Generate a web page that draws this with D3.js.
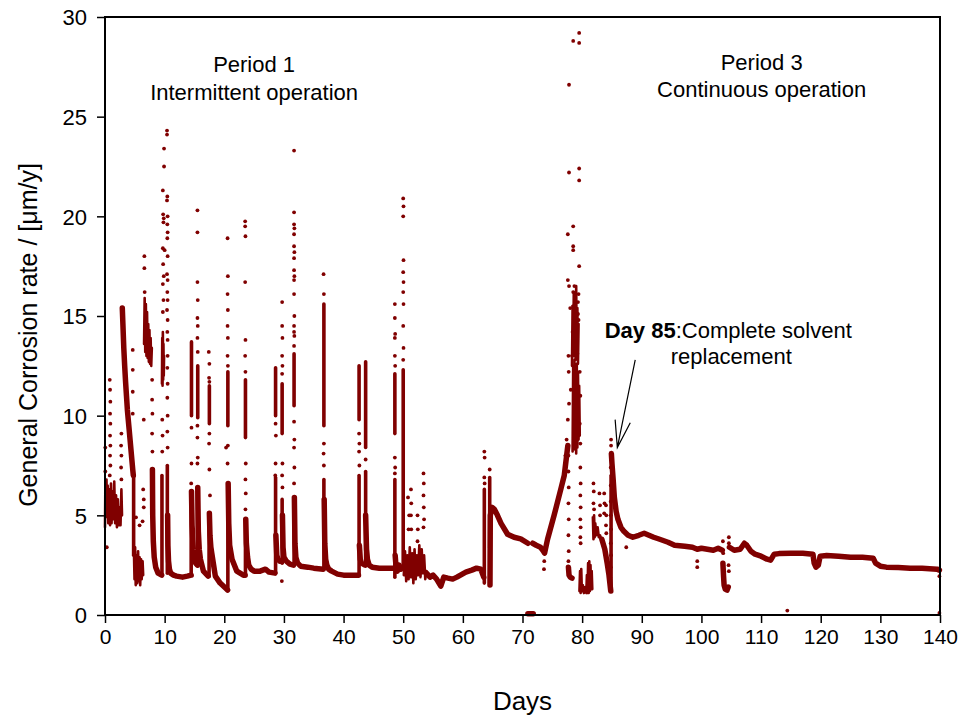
<!DOCTYPE html>
<html>
<head>
<meta charset="utf-8">
<script src="https://cdn.jsdelivr.net/npm/d3@7"></script>
<style>
  body { margin: 0; background: #fff; }
  svg text { font-family: Arial, "Liberation Sans", sans-serif; fill: #000; }
</style>
</head>
<body>
<div id="chart"></div>
<script>
// axis ticks
const dayTicks = [0, 10, 20, 30, 40, 50, 60, 70, 80, 90, 100, 110, 120, 130, 140];
const rateTicks = [0, 5, 10, 15, 20, 25, 30];

const intermittentBands = [
  [[2.9,15.4],[3.0,14.6],[3.15,13.4],[3.3,12.5],[3.45,11.7],[3.6,11.0],[3.75,10.3],[3.9,9.8],[4.05,9.3],[4.2,8.8],[4.35,8.3],[4.5,7.8],[4.65,7.3],[4.75,7.0]],
  [[7.95,7.3],[8.0,5.0],[8.1,3.7],[8.25,2.9],[8.5,2.4],[8.9,2.1],[9.5,2.0]],
  [[10.5,5.0],[10.55,3.5],[10.65,2.7],[10.8,2.3],[11.0,2.1],[11.5,2.0],[12.0,1.95],[13.0,1.9],[13.8,1.95],[14.45,2.0]],
  [[14.5,6.2],[14.6,4.5],[14.8,3.3],[15.0,2.8],[15.2,2.6],[15.5,2.5]],
  [[15.55,6.4],[15.65,4.2],[15.8,3.3],[16.0,2.8],[16.5,2.2],[17.3,1.95]],
  [[17.5,5.1],[17.6,4.0],[17.75,3.4],[17.9,3.1],[18.5,1.95],[19.3,1.6],[20.2,1.35],[20.55,1.25]],
  [[20.65,6.6],[20.75,4.6],[20.9,3.5],[21.3,2.8],[22.1,2.2],[23.2,2.0],[23.5,2.0]],
  [[23.6,4.8],[23.7,3.6],[23.9,2.9],[24.1,2.5],[24.5,2.3],[25.0,2.2],[26.0,2.2],[26.9,2.3],[27.5,2.15],[28.5,2.1]],
  [[28.65,4.0],[28.8,3.0],[29.0,2.8],[29.3,2.7],[29.65,2.7]],
  [[29.75,5.0],[29.85,3.4],[30.0,2.9],[30.4,2.7],[31.0,2.55],[31.6,2.5]],
  [[31.75,5.9],[31.85,3.6],[32.0,2.9],[32.3,2.6],[32.8,2.45],[34.0,2.4],[35.0,2.35],[36.6,2.3]],
  [[36.75,5.8],[36.85,3.6],[37.0,2.8],[37.2,2.5],[37.5,2.3],[38.0,2.2],[39.0,2.05],[40.0,2.0],[41.0,2.0],[42.5,2.0]],
  [[42.65,3.5],[42.8,2.8],[43.0,2.6],[43.6,2.5]],
  [[43.7,5.0],[43.85,3.3],[44.0,2.8],[44.3,2.5],[44.8,2.4],[46.0,2.35],[47.0,2.35],[48.5,2.35]],
  [[48.65,3.0],[48.8,2.4],[49.0,2.2],[49.3,2.5],[49.6,2.3],[49.9,2.4]]
];
const intermittentColumns = [
  [[4.8,3.0],[4.8,7.0]], [[9.55,2.0],[9.55,7.0]], [[10.45,2.1],[10.45,7.5]],
  [[14.45,2.0],[14.45,6.2]], [[14.5,10.0],[14.5,13.7]],
  [[15.5,2.5],[15.5,6.4]], [[15.55,9.9],[15.55,12.5]],
  [[17.45,1.95],[17.45,5.1]], [[17.5,9.6],[17.5,11.5]],
  [[20.6,1.3],[20.6,6.6]], [[20.6,9.5],[20.6,12.2]],
  [[23.55,2.0],[23.55,4.8]], [[23.55,8.9],[23.55,11.8]],
  [[28.6,2.1],[28.6,6.9]], [[28.6,10.0],[28.6,12.4]],
  [[29.7,2.6],[29.7,5.8]], [[29.7,9.1],[29.7,11.6]],
  [[31.7,2.5],[31.7,5.9]], [[31.7,10.5],[31.7,13.1]],
  [[36.7,2.3],[36.7,6.8]], [[36.7,9.5],[36.7,15.6]],
  [[42.6,2.0],[42.6,7.0]], [[42.6,9.8],[42.6,12.5]],
  [[43.7,2.5],[43.7,7.2]], [[43.7,8.4],[43.7,12.7]],
  [[48.6,1.9],[48.6,6.8]], [[48.6,9.1],[48.6,12.1]],
  [[50.0,2.4],[50.0,12.3]]
];
const intermittentNoise = [
  [[0,4.4],[0.05,6.2],[0.15,4.9],[0.25,6.8],[0.35,5.0],[0.45,6.5],[0.55,4.6],[0.7,6.3],[0.85,4.5],[1.0,6.6],[1.1,4.6],[1.25,6.2],[1.4,4.8],[1.55,6.7],[1.7,4.6],[1.85,6.0],[2.0,4.4],[2.15,5.8],[2.3,4.5],[2.45,5.4],[2.6,4.5],[2.75,6.3],[2.85,5.0]],
  [[4.85,3.2],[4.95,1.8],[5.05,3.4],[5.15,1.5],[5.3,3.0],[5.4,1.6],[5.55,3.2],[5.65,1.7],[5.8,2.9],[5.9,1.5],[6.05,2.8],[6.15,1.8],[6.3,2.7],[6.4,2.0]],
  [[6.55,13.6],[6.65,15.9],[6.75,13.2],[6.85,15.6],[6.95,13.0],[7.05,15.2],[7.15,12.9],[7.25,14.6],[7.35,12.7],[7.45,14.3],[7.55,12.6],[7.65,13.9],[7.75,12.5],[7.85,13.4]],
  [[9.55,11.6],[9.6,13.9],[9.65,11.5],[9.7,14.2],[9.75,11.8],[9.8,13.6],[9.85,12.0],[9.9,13.0]],
  [[50.1,2.0],[50.3,3.2],[50.5,1.7],[50.7,3.0],[50.9,1.8],[51.1,3.4],[51.3,1.9],[51.5,3.1],[51.7,1.6],[51.9,3.3],[52.1,1.8],[52.3,3.0],[52.5,2.0],[52.7,3.5],[52.9,1.9],[53.1,3.3],[53.3,2.1],[53.5,3.0],[53.7,1.8],[53.9,2.2]]
];
const intermittentSpikes = [
  [0.05,8.4],[0.05,7.2],[0.3,3.4],[0.8,11.8],[0.85,11.3],[0.9,10.7],[0.85,10.1],[0.9,9.6],[0.85,9.0],[0.9,8.5],[0.85,8.0],[0.9,7.5],[0.8,7.0],
  [2.75,9.1],[2.7,8.5],[2.75,8.0],[2.7,7.4],[2.75,6.8],
  [4.65,13.3],[4.65,12.3],[4.65,11.2],[4.65,10.1],
  [5.2,4.9],[5.8,4.5],[6.3,4.7],[6.4,6.3],
  [6.6,18.0],[6.6,17.4],[6.65,16.2],[6.5,9.8],[6.5,5.8],[6.5,5.4],
  [7.9,11.8],[7.9,10.8],[7.95,10.1],[7.9,9.1],[7.95,8.2],
  [9.9,23.4],[9.9,22.5],[9.7,21.3],[9.75,20.1],[9.85,19.9],[9.8,19.7],[9.7,18.4],[10.0,18.3],[9.75,17.6],[9.85,17.0],[9.7,16.6],[9.8,15.8],[9.7,15.2],[9.6,9.8],[9.65,9.0],[9.6,8.2],
  [10.4,24.3],[10.4,24.1],[10.45,21.0],[10.4,20.8],[10.5,20.0],[10.45,19.6],[10.5,19.2],[10.45,18.9],[10.5,18.0],[10.4,17.1],[10.5,16.8],[10.45,16.2],[10.5,15.8],[10.4,15.3],[10.5,14.8],[10.45,14.2],[10.5,13.8],[10.5,13.0],[10.45,12.4],[10.5,11.6],[10.45,10.9],[10.5,10.0],[10.45,9.2],[10.5,8.4],
  [14.5,7.6],[14.45,6.6],[14.5,9.4],
  [15.5,20.3],[15.5,19.2],[15.5,16.7],[15.55,15.8],[15.5,14.9],[15.55,14.5],[15.5,13.9],[15.55,13.2],[15.5,9.5],[15.5,8.9],[15.55,7.9],[15.5,7.6],
  [17.4,13.2],[17.5,12.6],[17.45,11.9],[17.5,11.7],[17.5,9.1],[17.45,8.6],[17.5,7.3],[17.6,6.0],
  [20.3,8.4],[20.55,18.9],[20.6,17.0],[20.55,16.1],[20.6,15.3],[20.55,14.5],[20.6,13.9],[20.55,13.0],[20.6,12.5],[20.6,8.5],[20.55,7.6],[20.9,3.6],[21.0,3.3],
  [23.5,19.75],[23.5,19.5],[23.55,19.0],[23.5,16.7],[23.55,13.8],[23.5,13.0],[23.55,12.2],[23.6,7.6],[23.55,6.8],[23.6,6.1],[23.55,5.3],
  [28.6,9.6],[28.65,9.0],[28.6,7.6],[28.55,7.0],
  [29.7,15.7],[29.7,14.5],[29.75,13.9],[29.7,13.0],[29.75,12.5],[29.7,12.1],[29.75,7.6],[29.7,7.0],[29.75,6.4],[29.65,1.7],
  [31.7,23.3],[31.7,20.2],[31.7,19.6],[31.75,19.4],[31.7,19.1],[31.7,18.5],[31.75,18.2],[31.7,17.9],[31.7,17.3],[31.75,17.0],[31.7,16.8],[31.7,16.1],[31.75,15.0],[31.7,14.5],[31.7,14.2],[31.75,14.0],[31.7,13.5],[31.7,9.7],[31.75,8.8],[31.7,8.4],[31.75,7.4],[31.7,6.6],
  [36.65,17.1],[36.7,16.1],[36.7,8.6],[36.65,8.1],[36.7,7.5],
  [42.6,9.1],[42.65,8.6],[42.6,8.2],[42.65,7.5],
  [43.7,7.8],
  [48.6,15.6],[48.6,14.9],[48.65,14.1],[48.6,13.9],[48.6,13.0],[48.65,12.5],[48.6,7.9],[48.65,7.4],[48.6,7.1],
  [50.0,20.9],[50.05,20.5],[50.0,20.0],[50.05,17.8],[50.0,17.2],[50.05,16.7],[50.0,16.2],[50.05,15.6],[50.0,14.5],[50.05,13.4],[50.0,12.8],
  [51.3,6.3],[51.35,5.6],[51.3,5.0],[51.35,4.3],[52.4,5.0],[52.45,4.3],[52.4,3.7],[53.4,7.1],[53.45,6.6],[53.4,6.0],[53.45,5.4],[53.5,4.8],[53.4,4.4],[50.8,5.9],[51.0,5.0],[50.9,4.3]
];

const transitionBands = [
  [[53.9,2.1],[54.5,1.9],[55.0,2.0],[55.6,1.8],[56.3,1.45],[56.8,1.9],[57.5,1.85],[58.3,1.8],[59.0,1.9],[59.6,2.0],[60.5,2.15],[61.5,2.25],[62.3,2.35],[63.0,2.3],[63.5,1.9]],
  [[64.55,1.5],[64.6,5.0],[64.9,5.4],[65.3,5.3],[65.8,5.0],[66.4,4.6],[67.5,4.05],[68.6,3.9],[69.7,3.82],[70.9,3.6]],
  [[71.7,3.6],[72.3,3.5],[73.0,3.4],[73.5,3.2],[73.7,3.1],[74.2,3.8],[75.3,5.0],[76.5,6.4],[77.0,7.0],[77.6,8.5]],
  [[77.7,2.4],[77.8,2.0],[78.0,1.9],[78.3,1.85]],
  [[83.3,3.8],[83.8,3.3],[84.2,2.6],[84.5,2.0],[84.8,1.2]],
  [[70.9,0.06],[71.8,0.06]]
];
const transitionColumns = [
  [[63.6,1.6],[63.6,6.3]], [[64.5,3.4],[64.5,6.9]], [[84.85,1.3],[84.85,7.0]]
];
const transitionNoise = [
  [[78.4,8.2],[78.5,12.5],[78.6,8.6],[78.7,12.8],[78.8,8.3],[78.9,12.0],[79.0,8.1],[79.1,12.6],[79.2,8.4],[79.3,12.2],[79.4,8.8],[79.5,11.5],[79.6,9.0]],
  [[78.3,12.5],[78.4,15.5],[78.5,13.0],[78.6,16.2],[78.7,13.5],[78.8,15.0],[78.9,12.8],[79.0,16.5],[79.1,13.2],[79.2,15.4],[79.3,12.6],[79.4,14.6]],
  [[79.55,1.2],[79.65,2.2],[79.75,1.1],[79.85,2.3],[79.95,1.2],[80.1,1.5],[80.3,1.1],[80.5,1.4],[80.7,1.1],[80.8,2.0],[80.9,1.1],[81.0,2.6],[81.1,1.1],[81.2,2.7],[81.3,1.2],[81.4,2.5],[81.5,1.3],[81.6,2.2],[81.7,1.3]],
  [[81.8,4.9],[81.9,3.8],[82.0,5.0],[82.1,3.9],[82.2,4.6],[82.4,4.0],[82.6,4.4],[82.8,3.9],[83.0,4.0],[83.3,3.7]]
];
const transitionSpikes = [
  [63.6,8.2],[63.65,7.9],[63.6,6.9],[63.65,6.6],
  [64.5,7.3],[64.55,1.7],
  [73.6,2.3],[73.65,2.7],[77.2,8.0],[77.4,8.8],
  [77.6,16.8],[77.6,19.1],[77.8,26.6],[77.8,22.2],[77.8,16.5],[77.7,13.0],[77.75,12.2],[78.1,11.3],[77.8,10.6],[77.6,9.8],
  [77.7,8.0],[77.7,7.2],[77.75,6.4],[77.7,5.6],[77.75,4.8],[77.7,4.0],[77.75,3.2],[77.7,2.7],
  [78.5,28.8],[78.5,19.5],[78.5,18.5],[78.5,18.3],[78.5,16.2],[78.5,15.5],[78.0,15.4],[78.4,14.2],[78.6,13.4],[78.3,13.0],[78.7,16.5],[78.9,13.8],
  [79.5,29.2],[79.5,28.7],[79.5,22.4],[79.5,21.8],[79.5,17.5],[79.4,16.1],[79.3,15.7],[79.3,15.1],[79.4,14.8],[79.1,14.4],[79.2,13.1],[79.6,12.2],
  [79.7,11.0],[79.6,9.6],[79.7,8.6],[79.7,7.4],[79.75,6.6],[79.7,6.0],[79.75,5.4],[79.7,4.8],[79.75,4.4],[79.7,3.9],[79.75,3.6],
  [81.9,6.6],[81.95,6.2],[81.9,5.6],[82.0,5.3],[82.9,6.1],[83.0,5.5],[83.0,5.0],[83.7,6.1],[83.75,5.6],[83.7,5.1],[84.0,5.5],[84.05,5.0],[84.0,4.5],[84.05,4.1],[84.6,2.6],[84.7,1.9]
];

const continuousBands = [
  [[84.9,8.1],[85.0,7.6],[85.2,6.8],[85.4,5.9],[85.7,5.2],[86.0,4.8],[86.5,4.4],[87.0,4.2],[87.7,4.0],[88.5,3.9],[89.5,4.0],[90.4,4.1],[91.2,4.0],[92.0,3.9],[93.0,3.8],[94.4,3.65],[95.5,3.5],[97.2,3.45],[98.5,3.4],[99.3,3.3],[100.0,3.35],[101.0,3.3],[102.0,3.25],[102.8,3.35],[103.5,3.25]],
  [[103.6,2.6],[103.7,2.0],[103.8,1.5],[104.0,1.3],[104.3,1.25],[104.5,1.4]],
  [[104.7,3.4],[105.5,3.25],[106.5,3.3],[107.2,3.6],[107.6,3.5],[108.3,3.2],[109.0,3.05],[110.0,2.95],[111.0,2.8],[111.6,2.75],[112.2,3.05],[113.0,3.08],[115.0,3.1],[117.0,3.1],[118.7,3.05],[118.9,2.6],[119.2,2.4],[119.6,2.5],[119.9,2.95],[121.0,2.98],[123.0,2.95],[125.0,2.9],[127.0,2.9],[128.8,2.85],[129.2,2.6],[130.0,2.45],[131.0,2.4],[133.0,2.38],[135.0,2.35],[137.0,2.35],[139.5,2.3],[139.9,2.25]]
];
const continuousSpikes = [
  [84.85,8.8],[84.85,8.5],[84.8,7.4],[84.8,6.5],[84.8,5.7],[84.8,5.0],[84.85,4.3],[84.8,3.6],[84.85,3.0],[84.8,2.4],
  [87.4,3.4],[99.3,2.7],[99.3,2.4],
  [103.6,3.7],[103.65,3.1],[104.6,3.9],[104.6,3.6],[104.55,2.5],[104.6,2.2],
  [114.4,0.22],[139.9,1.95],[139.9,0.1]
];

const width = 961, height = 719;
const margin = { top: 17, right: 21, bottom: 104, left: 105 };
const w = width - margin.left - margin.right;
const h = height - margin.top - margin.bottom;
const red = "#800000";

const svg = d3.select("#chart").append("svg")
  .attr("width", width)
  .attr("height", height);

const g = svg.append("g")
  .attr("transform", `translate(${margin.left},${margin.top})`);

const x = d3.scaleLinear().domain([0, 140]).range([0, w]);
const y = d3.scaleLinear().domain([0, 30]).range([h, 0]);

// axes
const xAxis = g.append("g")
  .attr("transform", `translate(0,${h})`)
  .call(d3.axisBottom(x).tickValues(dayTicks).tickSize(8).tickSizeOuter(0).tickPadding(6));
const yAxis = g.append("g")
  .call(d3.axisLeft(y).tickValues(rateTicks).tickSize(8).tickSizeOuter(0).tickPadding(10));

[xAxis, yAxis].forEach(ax => {
  ax.select(".domain").remove();
  ax.selectAll("line").attr("stroke", "#000").attr("stroke-width", 1.5);
  ax.selectAll("text").attr("fill", "#000").style("font-family", "Arial, 'Liberation Sans', sans-serif");
});
xAxis.selectAll("text").style("font-size", "21px");
yAxis.selectAll("text").style("font-size", "22px").attr("dy", "0.36em");

const line = d3.line().x(d => x(d[0])).y(d => y(d[1]));

const plot = g.append("g");

function drawPaths(sets, sw) {
  plot.append("g").selectAll("path")
    .data(sets)
    .join("path")
    .attr("d", line)
    .attr("fill", "none")
    .attr("stroke", red)
    .attr("stroke-width", sw)
    .attr("stroke-linejoin", "round")
    .attr("stroke-linecap", "round");
}

drawPaths(intermittentNoise.concat(transitionNoise), 2.6);
drawPaths(intermittentColumns.concat(transitionColumns), 3.6);
drawPaths(intermittentBands.concat(transitionBands, continuousBands), 5.5);

plot.append("g").selectAll("circle")
  .data(intermittentSpikes.concat(transitionSpikes, continuousSpikes))
  .join("circle")
  .attr("cx", d => x(d[0]))
  .attr("cy", d => y(d[1]))
  .attr("r", 1.9)
  .attr("fill", red);

// frame
g.append("rect")
  .attr("width", w)
  .attr("height", h)
  .attr("fill", "none")
  .attr("stroke", "#000")
  .attr("stroke-width", 2);

// axis titles
svg.append("text")
  .attr("x", margin.left + w / 2)
  .attr("y", 710)
  .attr("text-anchor", "middle")
  .style("font-size", "26px")
  .text("Days");

svg.append("text")
  .attr("transform", "translate(37,335) rotate(-90)")
  .attr("text-anchor", "middle")
  .style("font-size", "25px")
  .text("General Corrosion rate / [\u03bcm/y]");

// annotations
const note = g.append("g").style("font-size", "22px");
note.append("text").attr("x", x(25)).attr("y", 55).attr("text-anchor", "middle").text("Period 1");
note.append("text").attr("x", x(25)).attr("y", 83).attr("text-anchor", "middle").text("Intermittent operation");
note.append("text").attr("x", x(110.1)).attr("y", 52.5).attr("text-anchor", "middle").text("Period 3");
note.append("text").attr("x", x(110.1)).attr("y", 80).attr("text-anchor", "middle").text("Continuous operation");

const day85 = note.append("text").attr("x", x(104.5)).attr("y", 321).attr("text-anchor", "middle");
day85.append("tspan").style("font-weight", "bold").text("Day 85");
day85.append("tspan").text(":Complete solvent");
note.append("text").attr("x", x(105)).attr("y", 347).attr("text-anchor", "middle").text("replacement");

// arrow to the day 85 reading
const tail = [x(88.9), y(12.8)], tip = [x(85.9), y(8.4)];
const ang = Math.atan2(tail[1] - tip[1], tail[0] - tip[0]);
const arm = 28, spread = 16 * Math.PI / 180;
g.append("path")
  .attr("d", `M${tail[0]},${tail[1]}L${tip[0]},${tip[1]}` +
    `M${tip[0] + arm * Math.cos(ang - spread)},${tip[1] + arm * Math.sin(ang - spread)}L${tip[0]},${tip[1]}` +
    `L${tip[0] + arm * Math.cos(ang + spread)},${tip[1] + arm * Math.sin(ang + spread)}`)
  .attr("fill", "none")
  .attr("stroke", "#000")
  .attr("stroke-width", 1.2);
</script>
</body>
</html>
